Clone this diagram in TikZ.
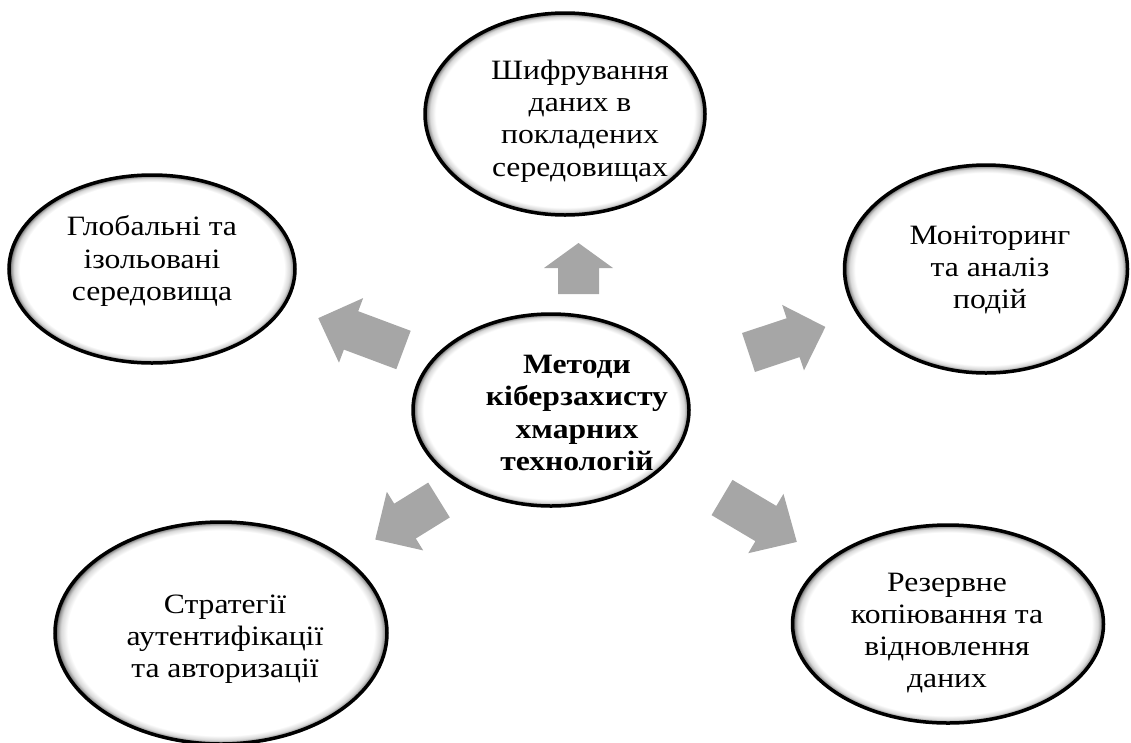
\documentclass[tikz,border=0pt]{standalone}
\usepackage{fontspec}
\setmainfont{Liberation Serif}[FakeStretch=1.13]
\usetikzlibrary{shapes.geometric}
\definecolor{arrowgray}{RGB}{166,166,166}
\pgfdeclareradialshading{glow}{\pgfpoint{0bp}{0bp}}{color(0bp)=(white); color(23.1bp)=(white); color(24.1bp)=(black!15); color(24.6bp)=(black!40); color(25bp)=(black!80); color(50bp)=(black!80)}
\newcommand{\BlockArrow}[5]{%
  % #1 tail point, #2 angle, #3 length, #4 head length, #5 name
  \fill[arrowgray,shift={#1},rotate=#2] (0,-20.5) -- ({#3-#4},-20.5) -- ({#3-#4},-34.5) -- (#3,0) -- ({#3-#4},34.5) -- ({#3-#4},20.5) -- (0,20.5) -- cycle;
  \coordinate (#5) at #1;}
\begin{document}
\begin{tikzpicture}[x=1pt,y=-1pt,
  bubble/.style={ellipse,draw=black,line width=3.5pt,shading=glow,inner sep=0pt},
  txt/.style={align=center,font=\fontsize{28}{32.3}\selectfont,inner sep=0pt},
  btxt/.style={txt,font=\fontsize{28}{32.3}\selectfont\bfseries}]
\useasboundingbox (0,0) rectangle (1131,742);
% arrows
\BlockArrow{(578.5,294)}{90}{51}{25}{a1}
\BlockArrow{(403.5,350)}{159.5}{91}{35}{a2}
\BlockArrow{(748.5,352.5)}{18.4}{81}{34}{a3}
\BlockArrow{(722,497.5)}{-30.7}{87}{36}{a4}
\BlockArrow{(439,500)}{211.8}{75}{35}{a5}
% ellipses
\node[bubble,minimum width=276pt,minimum height=192pt] (c) at (551,410) {};
\node[btxt] (ct) at (577,413) {Методи\\кіберзахисту\\хмарних\\технологій};
\node[bubble,minimum width=280pt,minimum height=202pt] (t) at (565,114) {};
\node[txt] (tt) at (580,121) {Шифрування\\даних в\\покладених\\середовищах};
\node[bubble,minimum width=286pt,minimum height=188pt] (l) at (152,269) {};
\node[txt] (lt) at (152,261) {Глобальні та\\ізольовані\\середовища};
\node[bubble,minimum width=283pt,minimum height=208pt] (r) at (986,269) {};
\node[txt] (rt) at (990,270) {Моніторинг\\та аналіз\\подій};
\node[bubble,minimum width=311pt,minimum height=198pt] (br) at (948,624) {};
\node[txt] (brt) at (947,633) {Резервне\\копіювання та\\відновлення\\даних};
\node[bubble,minimum width=332pt,minimum height=222pt] (bl) at (221,633) {};
\node[txt] (blt) at (225,639) {Стратегії\\аутентифікації\\та авторизації};
\end{tikzpicture}
\end{document}
